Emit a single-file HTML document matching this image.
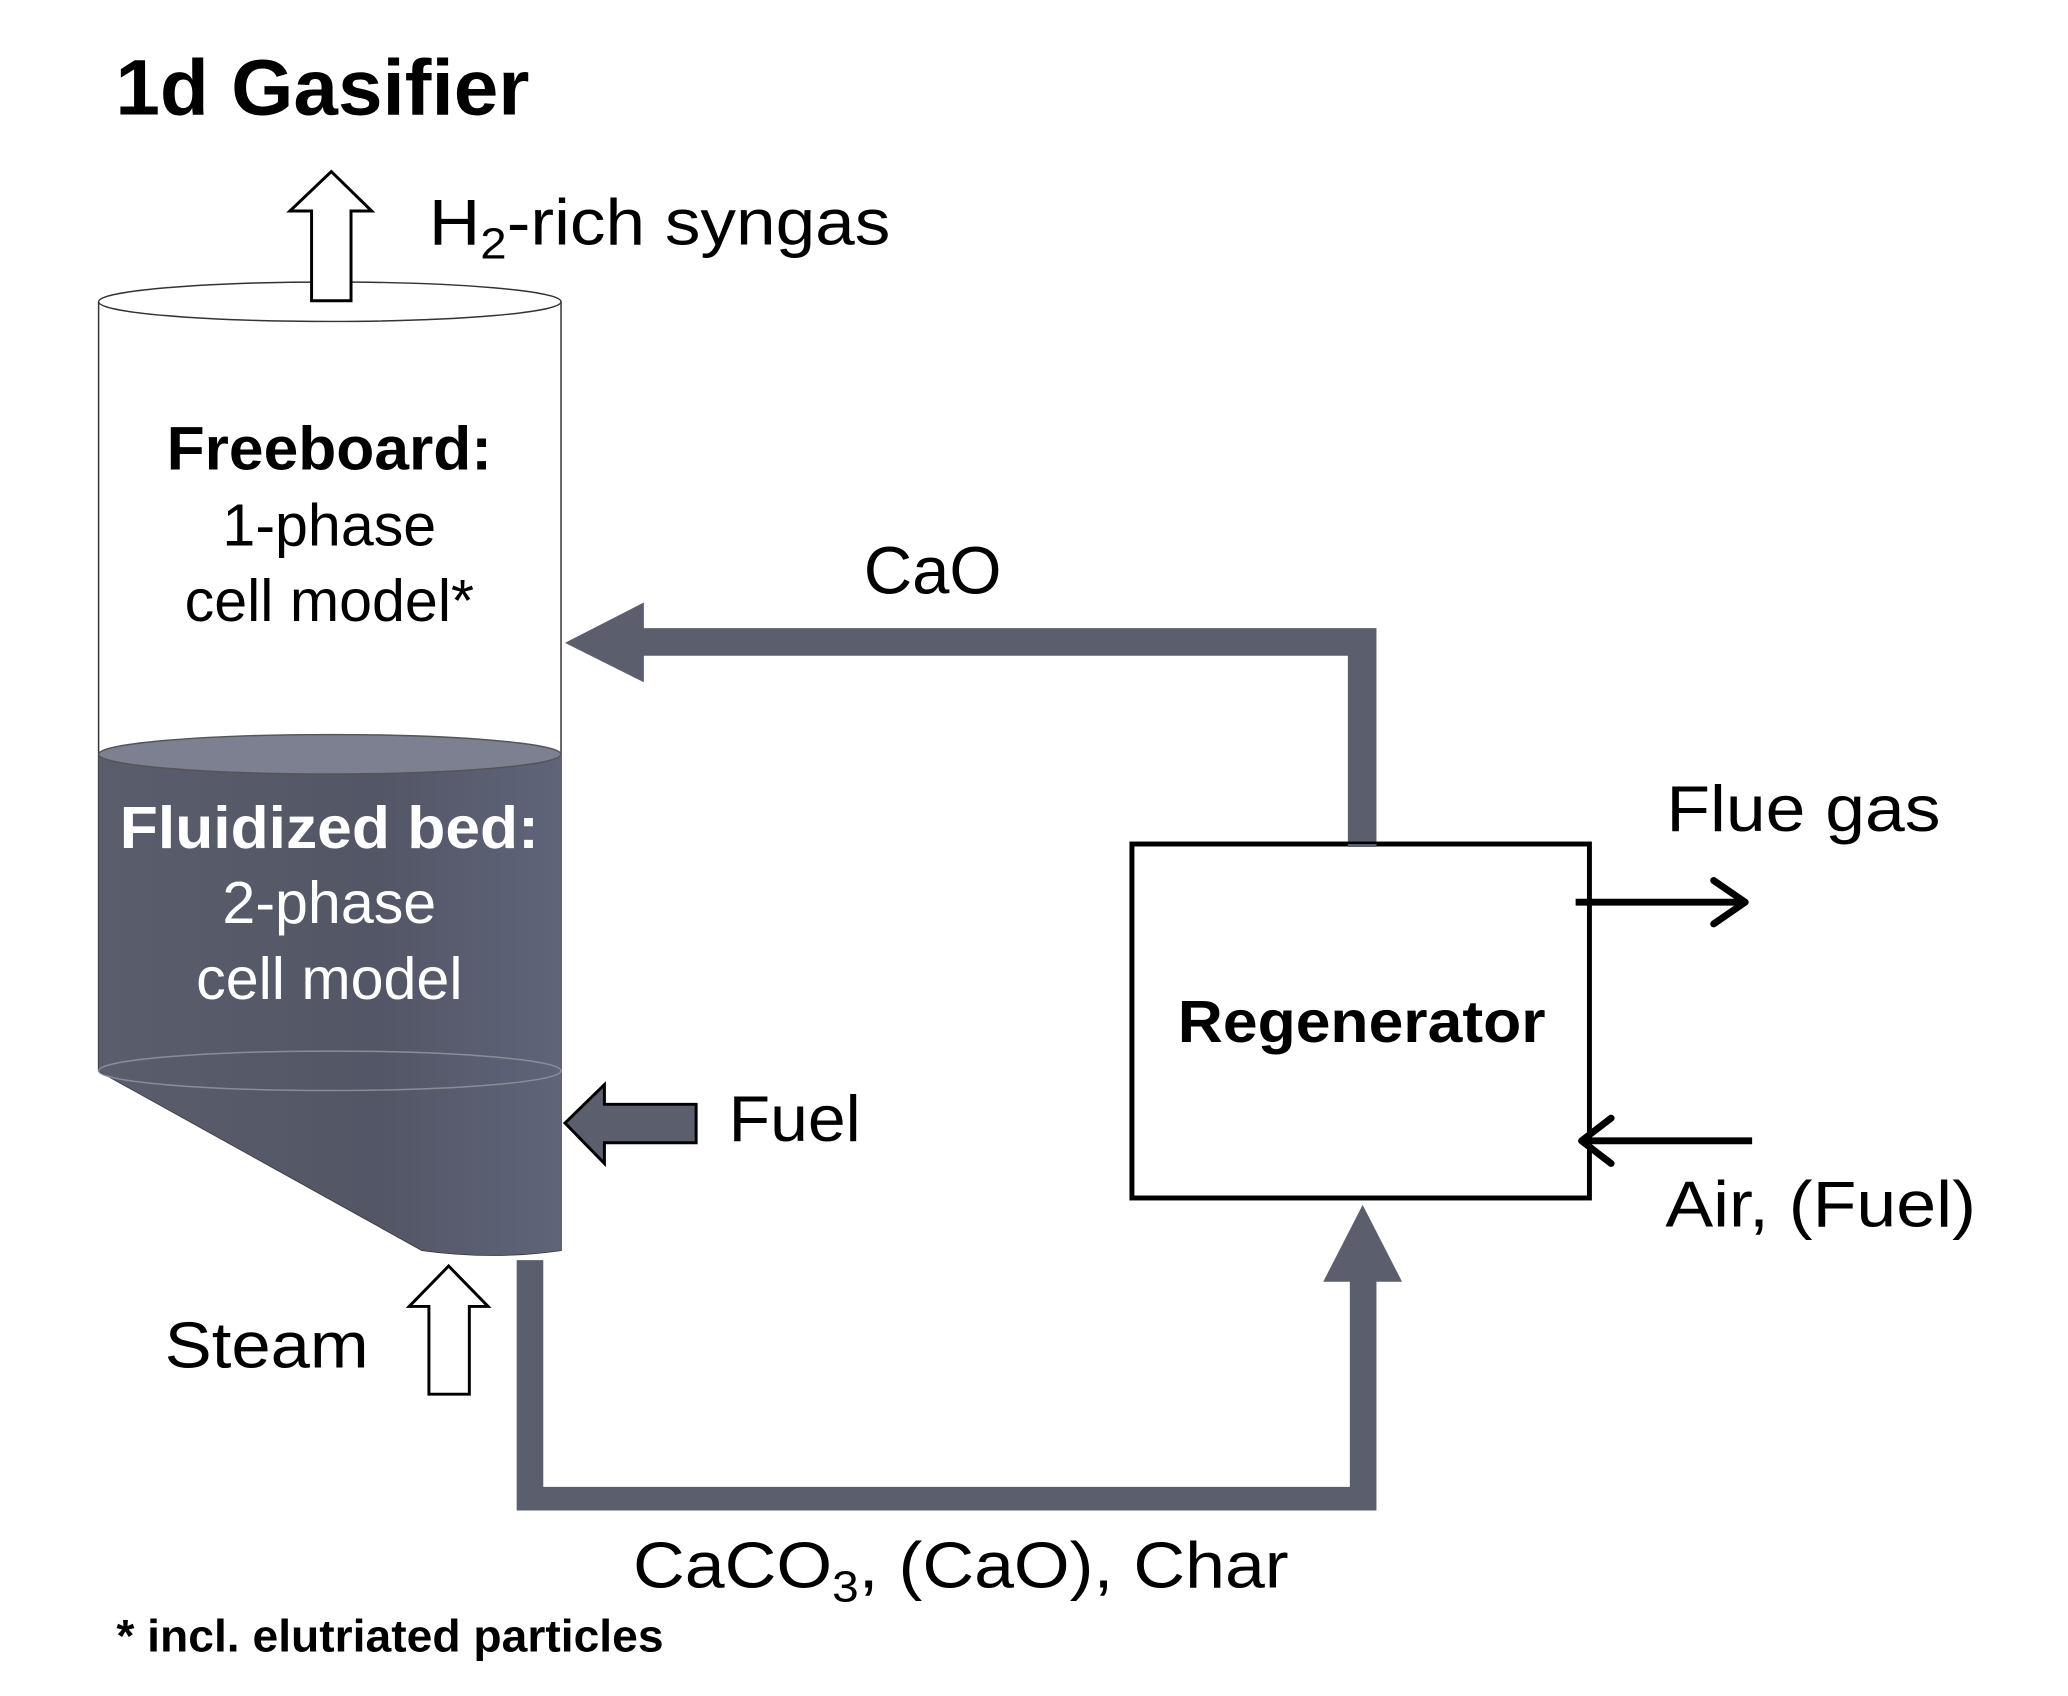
<!DOCTYPE html>
<html><head><meta charset="utf-8"><style>html,body{margin:0;padding:0;background:#fff}svg{display:block}</style></head>
<body>
<svg width="2068" height="1696" viewBox="0 0 2068 1696" xmlns="http://www.w3.org/2000/svg" font-family="Liberation Sans, Arial, sans-serif">
<defs>
<linearGradient id="g" x1="0" x2="1"><stop offset="0" stop-color="#5a5e6c"/><stop offset="0.6" stop-color="#525665"/><stop offset="1" stop-color="#60647a"/></linearGradient>
</defs>
<rect width="2068" height="1696" fill="#fff"/>
<g transform="scale(0.986)">
<text x="117" y="116" font-size="80" font-weight="bold" textLength="420" lengthAdjust="spacingAndGlyphs">1d Gasifier</text>
<!-- cylinder -->
<path d="M100 306 L100 1086 L428 1268 Q500 1278 569 1268 L569 306" fill="#fff" stroke="#333" stroke-width="1.5"/>
<path d="M100 765 L100 1086 L428 1268 Q500 1278 569 1268 L569 765 Z" fill="url(#g)"/>
<ellipse cx="334.5" cy="765" rx="234.5" ry="20" fill="#7c8091" stroke="#555" stroke-width="1.5"/>
<ellipse cx="334.5" cy="1086" rx="234.5" ry="20" fill="none" stroke="#8a8d98" stroke-width="1.5"/>
<ellipse cx="334.5" cy="306" rx="234.5" ry="20" fill="#fff" stroke="#333" stroke-width="1.5"/>
<text x="334" y="476" font-size="62" font-weight="bold" text-anchor="middle" textLength="330" lengthAdjust="spacingAndGlyphs">Freeboard:</text>
<text x="334" y="553" font-size="60" text-anchor="middle">1-phase</text>
<text x="334" y="630" font-size="60" text-anchor="middle">cell model*</text>
<text x="334" y="860" font-size="60" font-weight="bold" fill="#fff" text-anchor="middle" textLength="425" lengthAdjust="spacingAndGlyphs">Fluidized bed:</text>
<text x="334" y="936" font-size="60" fill="#fff" text-anchor="middle">2-phase</text>
<text x="334" y="1013" font-size="60" fill="#fff" text-anchor="middle">cell model</text>
<!-- syngas arrow -->
<polygon points="336,174 377,214 356,214 356,305 316,305 316,214 294,214" fill="#fff" stroke="#000" stroke-width="3"/>
<text x="435" y="248" font-size="66" textLength="468" lengthAdjust="spacingAndGlyphs">H<tspan font-size="44" dy="14">2</tspan><tspan dy="-14">-rich syngas</tspan></text>
<!-- CaO loop -->
<polygon points="573,652 653,611 653,637 1396,637 1396,856 1367,856 1367,665 653,665 653,692" fill="#5b5f6d"/>
<text x="876" y="602" font-size="68">CaO</text>
<!-- regenerator -->
<rect x="1148" y="856" width="464" height="359" fill="#fff" stroke="#000" stroke-width="5"/>
<rect x="1367" y="856" width="29" height="3" fill="#5b5f6d"/>
<text x="1381" y="1057" font-size="60" font-weight="bold" text-anchor="middle" textLength="373" lengthAdjust="spacingAndGlyphs">Regenerator</text>
<!-- flue gas -->
<line x1="1598" y1="915" x2="1770" y2="915" stroke="#000" stroke-width="7"/>
<polyline points="1738,893 1770,915 1738,937" fill="none" stroke="#000" stroke-width="7" stroke-linecap="round" stroke-linejoin="round"/>
<text x="1690" y="843" font-size="66" textLength="278" lengthAdjust="spacingAndGlyphs">Flue gas</text>
<!-- air -->
<line x1="1777" y1="1157" x2="1604" y2="1157" stroke="#000" stroke-width="7"/>
<polyline points="1634,1134 1604,1157 1634,1180" fill="none" stroke="#000" stroke-width="7" stroke-linecap="round" stroke-linejoin="round"/>
<text x="1689" y="1244" font-size="66" textLength="315" lengthAdjust="spacingAndGlyphs">Air, (Fuel)</text>
<!-- fuel arrow -->
<polygon points="573,1139 613,1100 613,1120 706,1120 706,1159 613,1159 613,1180" fill="#5b5f6d" stroke="#000" stroke-width="3"/>
<text x="739" y="1157" font-size="66" textLength="134" lengthAdjust="spacingAndGlyphs">Fuel</text>
<!-- steam arrow -->
<polygon points="455,1284 495,1325 476,1325 476,1414 435,1414 435,1325 415,1325" fill="#fff" stroke="#000" stroke-width="3"/>
<text x="167" y="1387" font-size="66" textLength="207" lengthAdjust="spacingAndGlyphs">Steam</text>
<!-- bottom pipe -->
<polygon points="524,1278 551,1278 551,1508 1369,1508 1369,1300 1342,1300 1382,1222 1422,1300 1396,1300 1396,1532 524,1532" fill="#5b5f6d"/>
<text x="642" y="1610" font-size="66" textLength="665" lengthAdjust="spacingAndGlyphs">CaCO<tspan font-size="44" dy="14">3</tspan><tspan dy="-14">, (CaO), Char</tspan></text>
<text x="118" y="1675" font-size="46" font-weight="bold" textLength="555" lengthAdjust="spacingAndGlyphs">* incl. elutriated particles</text>
</g>
</svg>
</body></html>
